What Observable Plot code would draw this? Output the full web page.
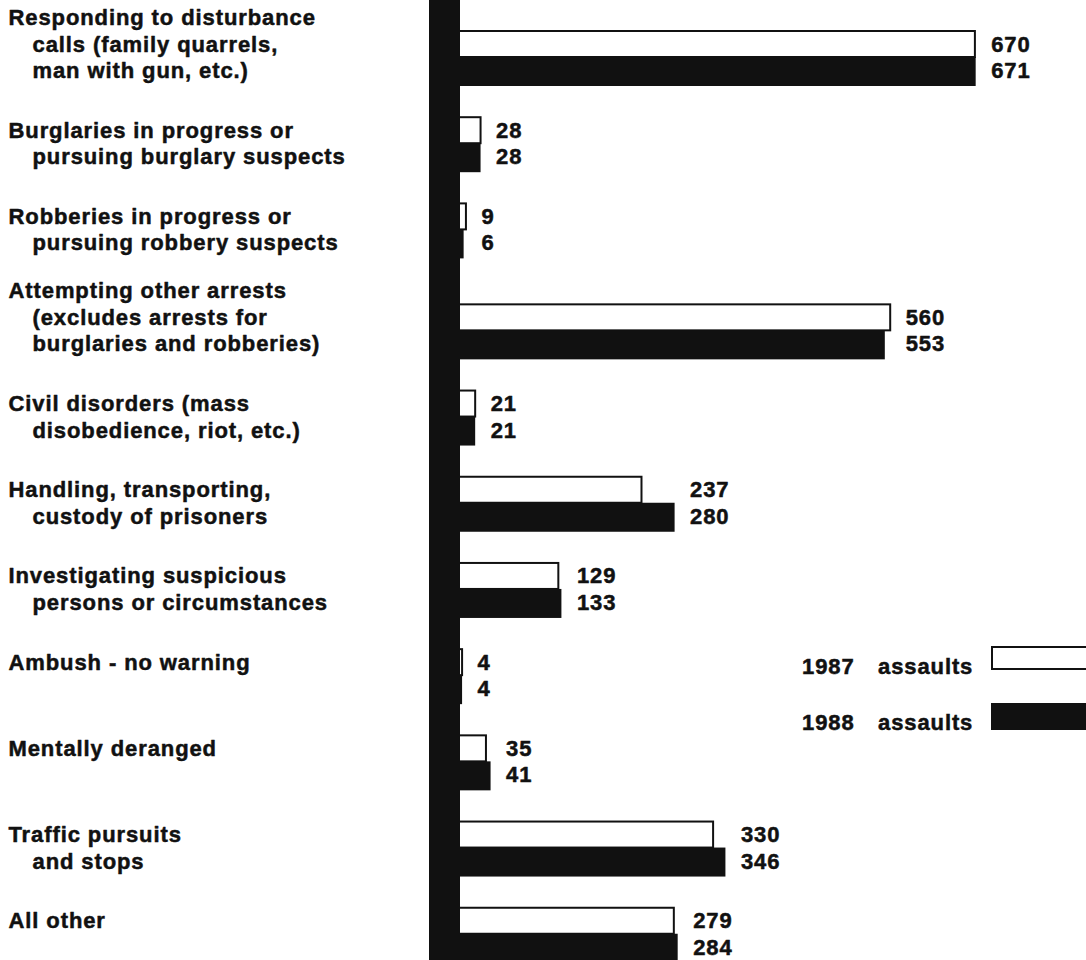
<!DOCTYPE html>
<html>
<head>
<meta charset="utf-8">
<script src="https://cdn.jsdelivr.net/npm/d3@7"></script>
<script src="https://cdn.jsdelivr.net/npm/@observablehq/plot@0.6"></script>
<style>
  html, body { margin: 0; padding: 0; background: #fff; overflow: hidden; }
  #wrap { position: relative; width: 1086px; height: 960px; overflow: hidden; }
  #wrap svg { overflow: hidden; }
  .lg { position: absolute; font-family: "Liberation Sans", Arial, sans-serif; font-weight: bold;
        font-size: 22px; letter-spacing: 0.9px; line-height: 24px; color: #111; white-space: nowrap;
        -webkit-text-stroke: 0.5px #111; }
  .box { position: absolute; box-sizing: border-box; }
</style>
</head>
<body>
<div id="wrap"></div>
<script>
// Category labels (as printed, line by line)
const labels = [
  ["Responding to disturbance", "calls (family quarrels,", "man with gun, etc.)"],
  ["Burglaries in progress or", "pursuing burglary suspects"],
  ["Robberies in progress or", "pursuing robbery suspects"],
  ["Attempting other arrests", "(excludes arrests for", "burglaries and robberies)"],
  ["Civil disorders (mass", "disobedience, riot, etc.)"],
  ["Handling, transporting,", "custody of prisoners"],
  ["Investigating suspicious", "persons or circumstances"],
  ["Ambush - no warning"],
  ["Mentally deranged"],
  ["Traffic pursuits", "and stops"],
  ["All other"]
];
// Number of assaults
const assaults1987 = [670, 28, 9, 560, 21, 237, 129, 4, 35, 330, 279];
const assaults1988 = [671, 28, 6, 553, 21, 280, 133, 4, 41, 346, 284];
// Legend entries
const legendYears = ["1987", "1988"];
const legendWord = "assaults";

// ---- layout constants (pixels) ----
const TOP = 31, PITCH = 86.2, EXTRA3 = 14.75 / 86.2; // extra row gap before a 3-line label
const WHITE_H = 26 / PITCH, BLACK_H = 29 / PITCH;
const INK = "#111", FS = 22, LS = 0.9;
const TXT0 = 13, LINE = 26.5;

// row position in "row units": index plus extra space before 3-line labels (except the first row)
let extra = 0;
const rowPos = labels.map((l, i) => {
  if (i > 0 && l.length === 3) extra += EXTRA3;
  return i + extra;
});

const categories = labels.map(l => l.join(" "));
const data = categories.map((c, i) => ({
  category: c, pos: rowPos[i], a1987: assaults1987[i], a1988: assaults1988[i]
}));
const labelRows = labels.flatMap((lines, k) => lines.map((text, i) => ({
  category: categories[k], pos: rowPos[k], text, first: i === 0, slot: lines.length === 3 ? i - 1 : i
})));

const textStyle = {fontSize: FS, fontWeight: "bold", fill: INK, stroke: INK, strokeWidth: 0.5};

const textMarks = [];
for (const slot of [-1, 0, 1]) {
  for (const first of [true, false]) {
    const rows = labelRows.filter(r => r.slot === slot && r.first === first);
    if (!rows.length) continue;
    textMarks.push(Plot.text(rows, {
      y: "pos", text: "text", frameAnchor: "left", textAnchor: "start",
      dx: first ? 8 : 32, dy: TXT0 + LINE * slot, ...textStyle
    }));
  }
}

const chart = Plot.plot({
  width: 1086,
  height: 960,
  marginLeft: 0, marginRight: 0, marginTop: 0, marginBottom: 0,
  style: {fontFamily: "'Liberation Sans', Arial, sans-serif", letterSpacing: LS + "px", background: "white"},
  x: {domain: [0, 700], range: [459, 998], axis: null},
  y: {type: "linear", domain: [0, 1], range: [TOP, TOP + PITCH], axis: null},
  marks: [
    Plot.rect(data, {x1: () => 0, x2: "a1987", y1: "pos", y2: d => d.pos + WHITE_H,
      fill: "white", stroke: INK, strokeWidth: 2}),
    Plot.rect(data, {x1: () => 0, x2: "a1988", y1: d => d.pos + WHITE_H, y2: d => d.pos + WHITE_H + BLACK_H,
      fill: INK}),
    Plot.ruleX([0], {stroke: INK, strokeWidth: 31, dx: -15}),
    Plot.text(data, {y: "pos", x: d => Math.max(d.a1987, d.a1988), text: d => String(d.a1987),
      dx: 15, dy: TXT0, textAnchor: "start", ...textStyle}),
    Plot.text(data, {y: "pos", x: d => Math.max(d.a1987, d.a1988), text: d => String(d.a1988),
      dx: 15, dy: TXT0 + LINE, textAnchor: "start", ...textStyle}),
    ...textMarks
  ]
});

const wrap = document.getElementById("wrap");
wrap.appendChild(chart);

// Legend (inside the plot area, right side)
const legendSpec = [
  {top: 655, boxTop: 646, boxH: 24, fill: "#fff"},
  {top: 711, boxTop: 703, boxH: 27, fill: INK}
];
legendYears.forEach((yr, i) => {
  const s = legendSpec[i];
  const a = document.createElement("span");
  a.className = "lg"; a.textContent = yr; a.style.left = "802px"; a.style.top = s.top + "px";
  wrap.appendChild(a);
  const b = document.createElement("span");
  b.className = "lg"; b.textContent = legendWord; b.style.left = "878px"; b.style.top = s.top + "px";
  wrap.appendChild(b);
  const box = document.createElement("div");
  box.className = "box";
  box.style.left = "991px"; box.style.top = s.boxTop + "px";
  box.style.width = "140px"; box.style.height = s.boxH + "px";
  box.style.background = s.fill; box.style.border = "2px solid " + INK;
  wrap.appendChild(box);
});
</script>
</body>
</html>
